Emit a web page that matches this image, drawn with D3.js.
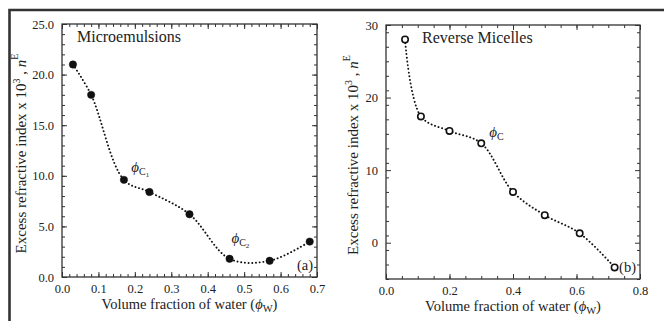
<!DOCTYPE html>
<meta charset="utf-8">
<head>
<style>
  body { margin: 0; background: #fff; }
  svg, svg text, svg tspan { font-family: "Liberation Serif", "Times New Roman", Times, "DejaVu Serif", serif !important; }
  svg text { fill: #222; }
</style>
</head>
<body>
<svg id="chart"></svg>
<script src="https://d3js.org/d3.v7.min.js"></script>
<script>

// panel (a) microemulsions
var phiA = [0.03, 0.08, 0.17, 0.24, 0.35, 0.46, 0.57, 0.68];
var nA   = [21.0, 18.0, 9.6, 8.4, 6.2, 1.8, 1.6, 3.5];
// panel (b) reverse micelles
var phiB = [0.06, 0.11, 0.20, 0.30, 0.40, 0.50, 0.61, 0.72];
var nB   = [28.0, 17.4, 15.4, 13.7, 7.0, 3.8, 1.3, -3.4];

var xTicksA = [0, 0.1, 0.2, 0.3, 0.4, 0.5, 0.6, 0.7];
var yTicksA = [0, 5, 10, 15, 20, 25];
var xTicksB = [0, 0.2, 0.4, 0.6, 0.8];
var yTicksB = [0, 10, 20, 30];

var SERIF = "'Liberation Serif', 'Times New Roman', Times, 'DejaVu Serif', serif";

var W = 664, H = 321;
var svg = d3.select("#chart").attr("width", W).attr("height", H)
    .attr("font-family", SERIF);

svg.append("rect").attr("width", W).attr("height", H).attr("fill", "#fff");

// outer frame (top + left)
svg.append("path")
    .attr("d", "M9.5," + H + "V10H" + W)
    .attr("fill", "none").attr("stroke", "#333").attr("stroke-width", 2.6);

function panel(opt) {
  var x = d3.scaleLinear().domain(opt.xDom).range([opt.left, opt.right]);
  var y = d3.scaleLinear().domain(opt.yDom).range([opt.bottom, opt.top]);
  var g = svg.append("g");

  function minor(dom, step) {
    return d3.range(dom[0], dom[1] + step / 2, step);
  }

  // bottom
  g.append("g").attr("transform", "translate(0," + opt.bottom + ")")
    .call(d3.axisBottom(x).tickValues(minor(opt.xDom, opt.xMinor)).tickSize(-3).tickSizeOuter(0).tickFormat(""));
  g.append("g").attr("transform", "translate(0," + opt.bottom + ")")
    .call(d3.axisBottom(x).tickValues(opt.xTicks).tickSize(-5).tickSizeOuter(0).tickPadding(7).tickFormat(d3.format(".1f")))
    .attr("class", "lab");
  // top
  g.append("g").attr("transform", "translate(0," + opt.top + ")")
    .call(d3.axisTop(x).tickValues(minor(opt.xDom, opt.xMinor)).tickSize(-3).tickSizeOuter(0).tickFormat(""));
  g.append("g").attr("transform", "translate(0," + opt.top + ")")
    .call(d3.axisTop(x).tickValues(opt.xTicks).tickSize(-5).tickSizeOuter(0).tickFormat(""));
  // left
  g.append("g").attr("transform", "translate(" + opt.left + ",0)")
    .call(d3.axisLeft(y).tickValues(minor(opt.yDom, opt.yMinor)).tickSize(-3).tickSizeOuter(0).tickFormat(""));
  g.append("g").attr("transform", "translate(" + opt.left + ",0)")
    .call(d3.axisLeft(y).tickValues(opt.yTicks).tickSize(-5).tickSizeOuter(0).tickPadding(8).tickFormat(d3.format(opt.yFmt)))
    .attr("class", "lab");
  // right
  g.append("g").attr("transform", "translate(" + opt.right + ",0)")
    .call(d3.axisRight(y).tickValues(minor(opt.yDom, opt.yMinor)).tickSize(-3).tickSizeOuter(0).tickFormat(""));
  g.append("g").attr("transform", "translate(" + opt.right + ",0)")
    .call(d3.axisRight(y).tickValues(opt.yTicks).tickSize(-5).tickSizeOuter(0).tickFormat(""));

  g.selectAll(".domain").remove();
  g.selectAll("g").attr("font-family", SERIF);
  g.selectAll(".tick line").attr("stroke", "#333").attr("stroke-width", 1);
  g.selectAll(".lab text").attr("font-size", 12.5).attr("fill", "#222");

  g.append("rect")
    .attr("x", opt.left).attr("y", opt.top)
    .attr("width", opt.right - opt.left).attr("height", opt.bottom - opt.top)
    .attr("fill", "none").attr("stroke", "#333").attr("stroke-width", 1.3);

  var pts = opt.xs.map(function(v, i) { return [v, opt.ys[i]]; });

  var line = d3.line()
      .x(function(d) { return x(d[0]); })
      .y(function(d) { return y(d[1]); })
      .curve(d3.curveCatmullRom.alpha(0.5));

  g.append("path")
    .attr("d", line(pts))
    .attr("fill", "none").attr("stroke", "#111")
    .attr("stroke-width", 1.9)
    .attr("stroke-linecap", "round")
    .attr("stroke-dasharray", "0.1,3.6");

  g.selectAll(".dot").data(pts).enter().append("circle")
    .attr("class", "dot")
    .attr("cx", function(d) { return x(d[0]); })
    .attr("cy", function(d) { return y(d[1]); })
    .attr("r", opt.filled ? 3.7 : 3.2)
    .attr("fill", opt.filled ? "#111" : "#fff")
    .attr("stroke", "#111").attr("stroke-width", opt.filled ? 0.5 : 1.6);

  // x title
  var xt = g.append("text")
    .attr("x", (opt.left + opt.right) / 2).attr("y", opt.bottom + 32)
    .attr("text-anchor", "middle").attr("font-size", 14.5);
  xt.append("tspan").text("Volume fraction of water (");
  xt.append("tspan").attr("font-style", "italic").text("\u03d5");
  xt.append("tspan").attr("font-size", 10.5).attr("dy", 3).text("W");
  xt.append("tspan").attr("dy", -3).text(")");

  // y title
  var cx = opt.left - opt.yTitleOff, cy = (opt.top + opt.bottom) / 2 + 3;
  var yt = g.append("text")
    .attr("transform", "translate(" + cx + "," + cy + ") rotate(-90)")
    .attr("text-anchor", "middle").attr("font-size", 15);
  yt.append("tspan").text("Excess refractive index x 10");
  yt.append("tspan").attr("font-size", 10).attr("dy", -6).text("3");
  yt.append("tspan").attr("dy", 6).text(" , ");
  yt.append("tspan").attr("font-style", "italic").text("n");
  yt.append("tspan").attr("font-size", 10).attr("dy", -8).text("E");

  g.append("text").attr("x", opt.nameX).attr("y", opt.top + 18)
    .attr("font-size", 16).text(opt.name);

  g.append("text").attr("x", opt.right - 4).attr("y", opt.bottom - 7)
    .attr("text-anchor", "end").attr("font-size", 14.5).text(opt.tag);

  return {x: x, y: y, g: g};
}

function phiLabel(g, px, py, subs) {
  var t = g.append("text").attr("x", px).attr("y", py).attr("font-size", 15);
  t.append("tspan").attr("font-style", "italic").text("\u03d5");
  t.append("tspan").attr("font-size", 10).attr("dy", 3).text("C");
  if (subs) t.append("tspan").attr("font-size", 7).attr("dy", 2).text(subs);
}

var a = panel({
  left: 62, right: 317, top: 24, bottom: 277,
  xDom: [0, 0.7], yDom: [0, 25], xMinor: 0.02, yMinor: 1,
  xTicks: xTicksA, yTicks: yTicksA, yFmt: ".1f",
  xs: phiA, ys: nA, filled: true,
  name: "Microemulsions", nameX: 77, tag: "(a)", yTitleOff: 36
});
phiLabel(a.g, a.x(0.19), a.y(10.4), "1");
phiLabel(a.g, a.x(0.465), a.y(3.4), "2");

var b = panel({
  left: 386, right: 640, top: 25, bottom: 279,
  xDom: [0, 0.8], yDom: [-5, 30], xMinor: 0.05, yMinor: 2,
  xTicks: xTicksB, yTicks: yTicksB, yFmt: "d",
  xs: phiB, ys: nB, filled: false,
  name: "Reverse Micelles", nameX: 422, tag: "(b)", yTitleOff: 28
});
phiLabel(b.g, b.x(0.325), b.y(14.5), null);

</script>
</body>
</html>
